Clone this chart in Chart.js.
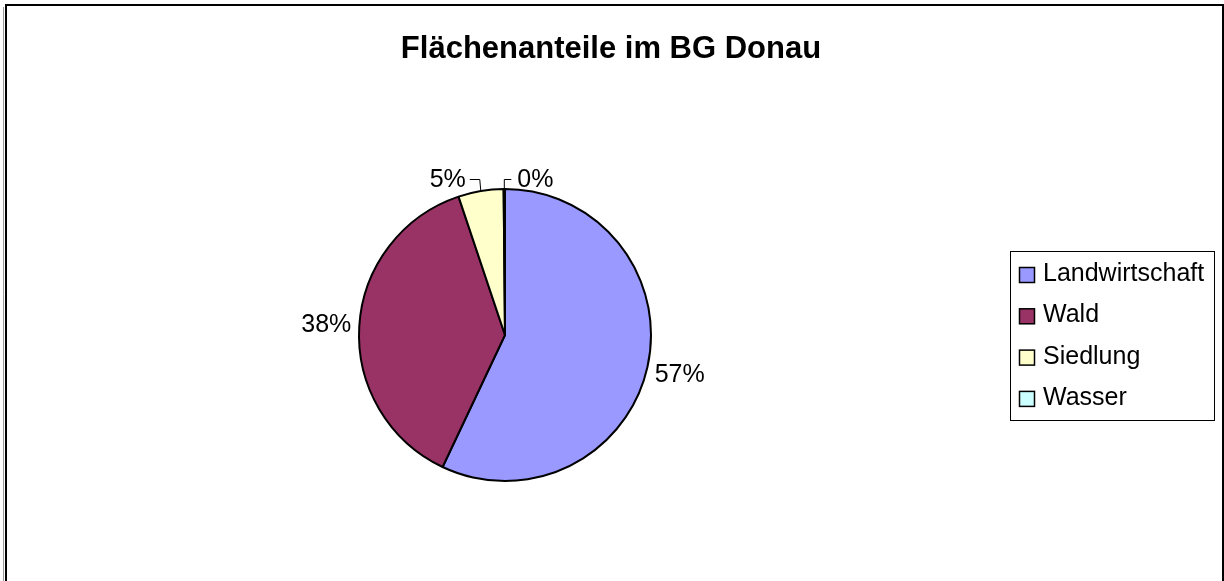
<!DOCTYPE html>
<html><head><meta charset="utf-8">
<script src="https://cdn.jsdelivr.net/npm/chart.js@4.4.0/dist/chart.umd.min.js"></script>
<style>html,body{margin:0;padding:0;background:#fff;overflow:hidden}#wrap{position:relative;width:1224px;height:581px}</style>
</head><body><div id="wrap"><canvas id="c" width="1224" height="581"></canvas></div>
<script>
const categories = ['Landwirtschaft', 'Wald', 'Siedlung', 'Wasser'];
const values = [57.0, 37.8, 5.0, 0.15];
const colors = ['#9999FF', '#993366', '#FFFFCC', '#CCFFFF'];
const titleText = 'Flächenanteile im BG Donau';

const FONT = '"Liberation Sans", Arial, sans-serif';
const total = values.reduce((a, b) => a + b, 0);
const percentLabels = values.map(v => Math.round(v / total * 100) + '%');

const decorPlugin = {
  id: 'decor',
  afterDraw(chart) {
    const ctx = chart.ctx;
    ctx.save();
    // outer frame
    ctx.strokeStyle = '#9a9a9a'; ctx.lineWidth = 1;
    ctx.beginPath(); ctx.moveTo(3.5, 7); ctx.lineTo(3.5, 590); ctx.stroke();
    ctx.strokeStyle = '#000'; ctx.lineWidth = 2;
    ctx.strokeRect(6, 5, 1217, 600);
    // title
    ctx.fillStyle = '#000';
    ctx.font = 'bold 31px ' + FONT;
    ctx.textAlign = 'center'; ctx.textBaseline = 'alphabetic';
    ctx.fillText(titleText, 611, 58);
    // legend
    ctx.lineWidth = 1; ctx.strokeStyle = '#000';
    ctx.strokeRect(1010.5, 251.5, 204, 169);
    ctx.font = '25px ' + FONT; ctx.textAlign = 'left';
    categories.forEach((c, i) => {
      const y = 267.5 + i * 41.3;
      ctx.fillStyle = colors[i];
      ctx.fillRect(1019.5, y, 15, 15);
      ctx.lineWidth = 1.5; ctx.strokeStyle = '#000';
      ctx.strokeRect(1019.5, y, 15, 15);
      ctx.fillStyle = '#000';
      ctx.fillText(c, 1043, 281 + i * 41.3);
    });
    // data labels
    const meta = chart.getDatasetMeta(0);
    ctx.font = '25px ' + FONT;
    ctx.lineWidth = 1; ctx.strokeStyle = '#000';
    meta.data.forEach((arc, i) => {
      const p = arc.getProps(['x', 'y', 'startAngle', 'endAngle', 'outerRadius'], true);
      const mid = (p.startAngle + p.endAngle) / 2;
      const frac = values[i] / total;
      const r = p.outerRadius;
      if (frac > 0.1) {
        const d = r + 33;
        const lx = p.x + Math.cos(mid) * d;
        const ly = p.y + Math.sin(mid) * d;
        ctx.textAlign = 'center';
        ctx.fillText(percentLabels[i], lx, ly + 8);
      } else {
        const ax = p.x + Math.cos(mid) * r;
        const ay = p.y + Math.sin(mid) * r;
        const ey = p.y - r - 10;
        const right = (i === meta.data.length - 1) || ax >= p.x - 2;
        const ex = right ? ax : ax - 1;
        const hx = right ? ex + 7 : ex - 10;
        ctx.beginPath();
        ctx.moveTo(ax, ay); ctx.lineTo(ex, ey + 0.5); ctx.lineTo(hx, ey + 0.5);
        ctx.stroke();
        ctx.textAlign = right ? 'left' : 'right';
        ctx.fillText(percentLabels[i], right ? hx + 6 : hx - 4, ey + 8);
      }
    });
    ctx.restore();
  }
};

new Chart(document.getElementById('c'), {
  type: 'pie',
  data: {
    labels: categories,
    datasets: [{
      data: values,
      backgroundColor: colors,
      borderColor: '#000',
      borderWidth: 2
    }]
  },
  options: {
    responsive: false,
    animation: false,
    layout: { padding: { left: 358, right: 572, top: 188, bottom: 99 } },
    plugins: { legend: { display: false }, title: { display: false }, tooltip: { enabled: false } }
  },
  plugins: [decorPlugin]
});
</script></body></html>
